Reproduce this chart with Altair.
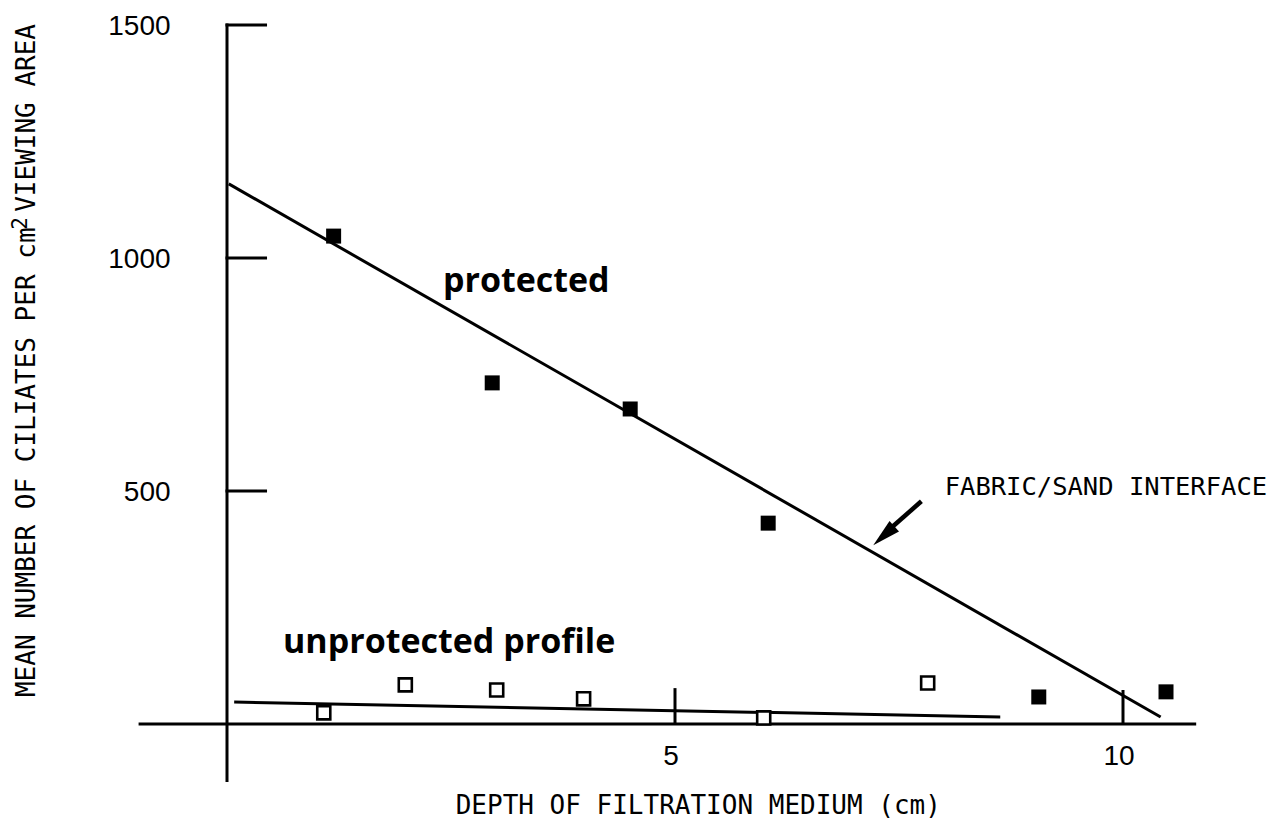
import altair as alt
import pandas as pd

# ---- data ----
prot_x = [1.19, 2.96, 4.50, 6.04, 9.06, 10.48]
prot_y = [1047, 732, 676, 431, 58, 69]
unprot_x = [1.08, 1.99, 3.01, 3.98, 5.99, 7.82]
unprot_y = [24, 84, 73, 54, 13, 88]
prot_fit_x = [0.02, 10.42]
prot_fit_y = [1159, 15]
unprot_fit_x = [0.08, 8.63]
unprot_fit_y = [47, 15]
y_ticks = [500, 1000, 1500]
x_ticks = [5, 10]

Y_TITLE = "MEAN NUMBER OF CILIATES PER cm  VIEWING AREA"
X_TITLE = "DEPTH OF FILTRATION MEDIUM (cm)"

# ---- layout / scales ----
W, H = 1262, 816
kx = 89.6          # px per cm
ky = 699 / 1500    # px per ciliate unit
x0_px, y0_px = 227, 724
xmin = -(x0_px - 8) / kx
xmax = xmin + W / kx
ymax = (y0_px - 8) / ky
ymin = ymax - H / ky

xs = alt.Scale(domain=[xmin, xmax], nice=False, zero=False)
ys = alt.Scale(domain=[ymin, ymax], nice=False, zero=False)

def X(f):
    return alt.X(f, type="quantitative", scale=xs, axis=None)

def Y(f):
    return alt.Y(f, type="quantitative", scale=ys, axis=None)

# axis lines
axis_df = pd.DataFrame({"x": [-0.97, 0.0], "x2": [10.8, 0.0], "y": [0, -121], "y2": [0, 1500]})
axes = alt.Chart(axis_df).mark_rule(color="black", strokeWidth=3, strokeCap="square").encode(
    x=X("x"), x2="x2", y=Y("y"), y2="y2")

ytick_df = pd.DataFrame({"y": y_ticks, "x": [0.0] * 3, "x2": [0.43] * 3})
yticks = alt.Chart(ytick_df).mark_rule(color="black", strokeWidth=3, strokeCap="square").encode(
    x=X("x"), x2="x2", y=Y("y"))

xtick_df = pd.DataFrame({"x": x_ticks, "y": [0, 0], "y2": [77, 73]})
xticks = alt.Chart(xtick_df).mark_rule(color="black", strokeWidth=3).encode(
    x=X("x"), y=Y("y"), y2="y2")

# fit lines
fit_df = pd.DataFrame({
    "x": prot_fit_x + unprot_fit_x,
    "y": prot_fit_y + unprot_fit_y,
    "s": ["protected"] * 2 + ["unprotected"] * 2,
})
fits = alt.Chart(fit_df).mark_line(color="black", strokeWidth=3).encode(
    x=X("x"), y=Y("y"), detail="s:N")

# points
prot_df = pd.DataFrame({"x": prot_x, "y": prot_y})
unprot_df = pd.DataFrame({"x": unprot_x, "y": unprot_y})
pts_f = alt.Chart(prot_df).mark_point(shape="square", filled=True, color="black", size=225, opacity=1).encode(
    x=X("x"), y=Y("y"))
pts_o = alt.Chart(unprot_df).mark_point(shape="square", filled=True, fill="white", stroke="black",
                                        strokeWidth=2.6, size=170, opacity=1).encode(
    x=X("x"), y=Y("y"))

# tick labels
ylab_df = pd.DataFrame({"y": y_ticks, "x": [-0.63] * 3, "t": [str(v) for v in y_ticks]})
ylabs = alt.Chart(ylab_df).mark_text(font="Liberation Sans", fontSize=28, align="right",
                                     baseline="middle", dy=2).encode(
    x=X("x"), y=Y("y"), text="t:N")
xlab_df = pd.DataFrame({"x": x_ticks, "y": [-71, -71], "t": [str(v) for v in x_ticks]})
xlabs = alt.Chart(xlab_df).mark_text(font="Liberation Sans", fontSize=28, align="center",
                                     baseline="middle", dx=-4).encode(
    x=X("x"), y=Y("y"), text="t:N")

# axis titles
xt_df = pd.DataFrame({"x": [5.26], "y": [-176], "t": [X_TITLE]})
xtitle = alt.Chart(xt_df).mark_text(font="DejaVu Sans Mono", fontSize=26, align="center",
                                    baseline="middle").encode(x=X("x"), y=Y("y"), text="t:N")
yt_df = pd.DataFrame({"x": [-2.23], "y": [780], "t": [Y_TITLE]})
ytitle = alt.Chart(yt_df).mark_text(font="DejaVu Sans Mono", fontSize=26, align="center",
                                    baseline="middle", angle=270).encode(x=X("x"), y=Y("y"), text="t:N")
ysup_df = pd.DataFrame({"x": [-2.23], "y": [780], "t": ["2"]})
ysup = alt.Chart(ysup_df).mark_text(font="DejaVu Sans Mono", fontSize=21, align="center",
                                    baseline="middle", angle=270, dx=137, dy=-6).encode(
    x=X("x"), y=Y("y"), text="t:N")

# annotations
lab_df = pd.DataFrame({"x": [2.41, 0.625], "y": [927, 152], "t": ["protected", "unprotected profile"]})
labels = alt.Chart(lab_df).mark_text(font="Open Sans", fontWeight="bold", fontSize=34, align="left",
                                     baseline="alphabetic").encode(x=X("x"), y=Y("y"), text="t:N")
fab_df = pd.DataFrame({"x": [8.01], "y": [508], "t": ["FABRIC/SAND INTERFACE"]})
fab = alt.Chart(fab_df).mark_text(font="DejaVu Sans Mono", fontSize=25.5, align="left",
                                  baseline="middle").encode(x=X("x"), y=Y("y"), text="t:N")

arrow_df = pd.DataFrame({"x": [7.75], "x2": [7.36], "y": [478], "y2": [412]})
arrow = alt.Chart(arrow_df).mark_rule(color="black", strokeWidth=4.5).encode(
    x=X("x"), x2="x2", y=Y("y"), y2="y2")
head_df = pd.DataFrame({"x": [7.33], "y": [404]})
head = alt.Chart(head_df).mark_point(shape="M0,-1L0.5,1L-0.5,1Z", filled=True, color="black",
                                     size=800, angle=228, opacity=1).encode(x=X("x"), y=Y("y"))

chart = alt.layer(
    axes, yticks, xticks, fits, pts_f, pts_o, ylabs, xlabs, xtitle, ytitle, ysup, labels, fab, arrow, head
).properties(
    width=W, height=H, autosize=alt.AutoSizeParams(type="none"), padding=0
).configure_view(stroke=None)

chart.save("out.html", embed_options={"renderer": "svg", "actions": False})
